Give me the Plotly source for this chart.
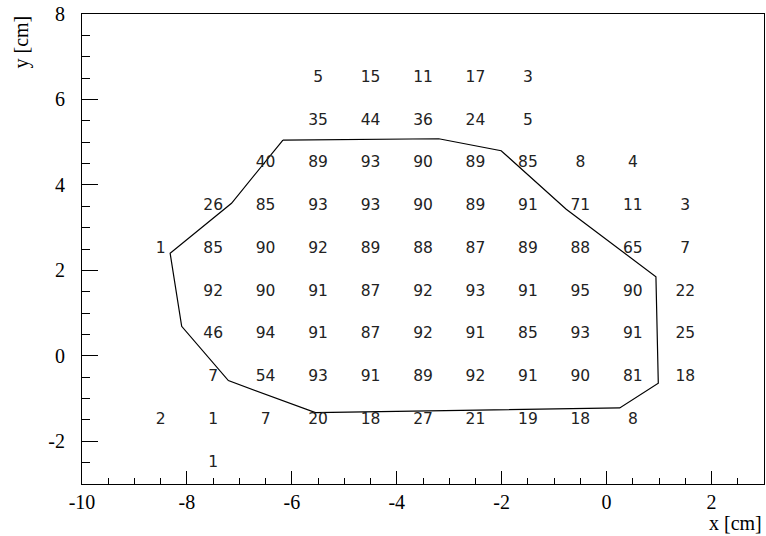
import plotly.graph_objects as go

# bin centres
x_bins = [-8.5, -7.5, -6.5, -5.5, -4.5, -3.5, -2.5, -1.5, -0.5, 0.5, 1.5]
y_bins = [6.5, 5.5, 4.5, 3.5, 2.5, 1.5, 0.5, -0.5, -1.5, -2.5]

# efficiency per bin (None = empty bin), one row per y bin
counts = [
    [None, None, None, 5, 15, 11, 17, 3, None, None, None],
    [None, None, None, 35, 44, 36, 24, 5, None, None, None],
    [None, None, 40, 89, 93, 90, 89, 85, 8, 4, None],
    [None, 26, 85, 93, 93, 90, 89, 91, 71, 11, 3],
    [1, 85, 90, 92, 89, 88, 87, 89, 88, 65, 7],
    [None, 92, 90, 91, 87, 92, 93, 91, 95, 90, 22],
    [None, 46, 94, 91, 87, 92, 91, 85, 93, 91, 25],
    [None, 7, 54, 93, 91, 89, 92, 91, 90, 81, 18],
    [2, 1, 7, 20, 18, 27, 21, 19, 18, 8, None],
    [None, 1, None, None, None, None, None, None, None, None, None],
]

# fiducial contour
poly_x = [-6.17, -3.20, -2.01, -0.77, 0.94, 0.985, 0.25, -5.55, -7.21, -8.10, -8.32, -7.15, -6.17]
poly_y = [5.05, 5.08, 4.80, 3.43, 1.85, -0.64, -1.22, -1.33, -0.58, 0.69, 2.40, 3.57, 5.05]

# axis labels (plain hyphen like the original)
x_ticks = [-10, -8, -6, -4, -2, 0, 2]
y_ticks = [-2, 0, 2, 4, 6, 8]

tx, ty, tt = [], [], []
for yv, row in zip(y_bins, counts):
    for xv, c in zip(x_bins, row):
        if c is not None:
            tx.append(xv)
            ty.append(yv)
            tt.append(str(c))

fig = go.Figure()
fig.add_trace(go.Scatter(x=poly_x, y=poly_y, mode='lines',
                         line=dict(color='black', width=1.2), hoverinfo='skip'))
fig.add_trace(go.Scatter(x=tx, y=ty, text=tt, mode='text',
                         textfont=dict(family='DejaVu Sans', size=15.5, color='#222222')))

axis_font = dict(family='Liberation Serif', size=20, color='black')

fig.update_xaxes(range=[-10, 3], tickvals=x_ticks, ticktext=[str(v) for v in x_ticks],
                 ticks='inside', ticklen=13, tickcolor='black', ticklabeloverflow='allow',
                 minor=dict(dtick=0.5, tick0=-10, ticks='inside', ticklen=6, tickcolor='black'),
                 showline=True, linecolor='black', linewidth=1, mirror=True,
                 showgrid=False, zeroline=False, tickfont=axis_font)
fig.update_yaxes(range=[-3, 8], tickvals=y_ticks, ticktext=[str(v) for v in y_ticks],
                 ticks='inside', ticklen=16, tickcolor='black', ticklabeloverflow='allow',
                 ticklabelstandoff=12,
                 minor=dict(dtick=0.5, tick0=0, ticks='inside', ticklen=8, tickcolor='black'),
                 showline=True, linecolor='black', linewidth=1, mirror=True,
                 showgrid=False, zeroline=False, tickfont=axis_font)

fig.add_annotation(text='x [cm]', xref='paper', yref='paper', x=1, y=0,
                   xanchor='right', yanchor='top', yshift=-26, showarrow=False,
                   font=dict(family='Liberation Serif', size=20, color='black'))
fig.add_annotation(text='y [cm]', xref='paper', yref='paper', x=0, y=1,
                   xanchor='center', yanchor='top', xshift=-61, textangle=-90,
                   showarrow=False, font=dict(family='Liberation Serif', size=20, color='black'))

fig.update_layout(width=766, height=536, showlegend=False,
                  paper_bgcolor='white', plot_bgcolor='white',
                  margin=dict(l=82, r=2, t=14, b=52))

# drop the default page margin so the figure fills the window exactly
fig.write_html("out.html", config={'displayModeBar': False},
               post_script="document.body.style.margin='0';")
